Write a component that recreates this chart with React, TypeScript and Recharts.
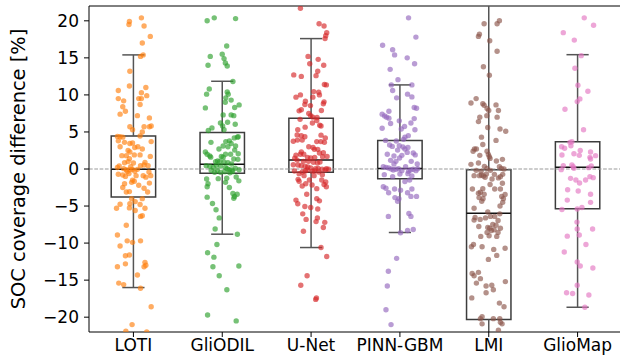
import {
  ComposedChart,
  Scatter,
  XAxis,
  YAxis,
  ReferenceArea,
  ReferenceLine,
} from "recharts";

const CATEGORIES = ["LOTI", "GliODIL", "U-Net", "PINN-GBM", "LMI", "GlioMap"];
const COLORS = ["#ff7f0e", "#2ca02c", "#d62728", "#9467bd", "#8c564b", "#e377c2"];

// box stats
const Q1 = [-3.77, -0.58, -0.44, -1.3, -20.3, -5.38];
const MEDIAN = [-0.05, 0.63, 1.21, 0.08, -5.96, 0.22];
const Q3 = [4.44, 4.93, 6.86, 3.86, -0.09, 3.68];
const WHISKER_LOW = [-16.0, -8.8, -10.6, -8.57, -40, -18.66];
const WHISKER_HIGH = [15.4, 11.84, 17.6, 11.35, 40, 15.43];

const Y_TICKS = [-20, -15, -10, -5, 0, 5, 10, 15, 20];

// [jitter, value] per method
const LOTI = [
  [0.09, 20.4], [-0.045, 19.9], [-0.05, 19.5], [0.12, 19.3], [0.19, 17.9], [0.1, 17.0], [0.11, 15.4], [0.08, 15.2],
  [-0.04, 13.2], [-0.045, 11.2], [-0.17, 10.6], [0.14, 11.0], [0.09, 10.3], [-0.17, 9.5], [0.06, 9.5], [0.09, 9.5],
  [0.15, 9.9], [-0.11, 9.2], [0.075, 8.7], [-0.12, 8.4], [-0.09, 7.8], [-0.15, 7.4], [0.045, 7.2], [0.18, 6.9],
  [-0.04, 5.7], [-0.01, 5.3], [0.12, 5.7], [0.18, 5.7], [0.2, 5.8], [-0.18, 4.4], [-0.15, 4.35], [-0.12, 4.3],
  [0.075, 4.45], [0.1, 5.0], [0.2, 3.7], [-0.01, 3.5], [-0.04, 3.45], [-0.17, 3.8], [-0.15, 3.0], [-0.1, 3.6],
  [0.015, 2.9], [0.05, 3.0], [0.1, 2.7], [-0.06, 2.5], [-0.04, 2.3], [-0.13, 1.8], [-0.08, 1.8], [0.01, 1.9],
  [0.075, 1.9], [0.19, 1.7], [0.13, 0.9], [-0.045, 1.4], [-0.1, 0.85], [-0.16, 0.4], [-0.18, 0.2], [-0.11, 0.05],
  [-0.08, -0.1], [-0.07, -0.35], [-0.04, -0.1], [-0.01, -0.05], [0.015, -0.3], [0.045, -0.05], [0.08, 0.45], [0.12, 0.55],
  [0.165, 0.45], [0.175, -0.4], [-0.17, -0.7], [-0.12, -0.8], [-0.09, -1.0], [-0.01, -1.5], [0.01, -1.65], [-0.02, -1.8],
  [0.11, -0.9], [0.14, -1.1], [0.195, -0.9], [-0.12, -2.5], [-0.08, -3.1], [-0.045, -3.05], [0.12, -2.6], [0.16, -3.1],
  [0.18, -1.9], [-0.05, -0.6], [-0.03, 0.3], [0.03, -0.9], [0.06, -2.2], [-0.1, -2.0], [0.0, 0.8], [-0.06, 1.0],
  [-0.15, -4.75], [-0.02, -4.0], [-0.04, -4.7], [0.02, -4.4], [0.1, -4.0], [0.075, -4.8], [-0.19, -5.3], [-0.045, -5.25],
  [0.13, -5.3], [0.1, -6.3], [0.08, -6.4], [0.02, -5.6], [-0.08, -7.6], [-0.18, -8.9], [-0.15, -10.4], [-0.07, -9.7],
  [-0.01, -9.9], [0.08, -9.7], [-0.09, -11.7], [-0.045, -11.6], [0.13, -12.6], [0.12, -13.2], [0.14, -13.0], [-0.18, -13.2],
  [-0.09, -12.8], [0.045, -14.3], [-0.165, -15.4], [-0.11, -15.6], [0.08, -16.1], [0.2, -18.6], [-0.015, -21.0], [-0.085, -21.9],
  [0.15, -22.0],
];

const GLIODIL = [
  [-0.17, 20.0], [-0.09, 20.4], [0.15, 20.3], [0.05, 16.6], [-0.135, 15.2], [0.0, 15.5], [0.02, 14.9], [0.035, 14.3],
  [0.056, 13.9], [-0.16, 14.0], [0.12, 11.8], [-0.146, 10.8], [-0.176, 10.1], [0.056, 10.4], [0.067, 10.1], [0.04, 9.6],
  [0.1, 9.3], [0.034, 9.0], [-0.19, 8.25], [0.14, 8.3], [0.19, 8.65], [0.1, 7.3], [0.13, 7.2], [0.01, 7.3],
  [-0.02, 6.2], [0.06, 6.3], [0.146, 6.05], [-0.116, 5.55], [-0.157, 5.2], [0.02, 5.3], [0.004, 5.8], [0.17, 4.3],
  [0.135, 4.2], [0.18, 4.35], [-0.127, 3.6], [0.04, 3.7], [0.08, 3.8], [0.1, 3.45], [0.01, 3.1], [0.064, 3.0],
  [-0.037, 2.7], [0.15, 3.1], [-0.19, 2.3], [-0.17, 2.0], [0.18, 2.05], [0.14, 2.55], [-0.14, 1.75], [-0.13, 1.6],
  [-0.01, 1.7], [0.01, 1.6], [0.037, 2.0], [0.094, 2.0], [0.13, 1.35], [0.176, 1.3], [-0.075, 1.0], [-0.052, 1.1],
  [-0.026, 1.03], [0.02, 0.94], [0.064, 0.85], [0.105, 0.67], [-0.18, 0.45], [-0.14, 0.36], [-0.1, 0.22], [-0.067, 0.5],
  [-0.02, 0.4], [0.034, 0.22], [0.056, 0.04], [0.08, -0.1], [0.11, -0.13], [0.146, 0.1], [0.19, -0.1], [-0.124, -0.2],
  [-0.086, -0.45], [-0.056, -0.2], [-0.02, -0.45], [0.026, -0.36], [0.086, -0.5], [0.116, -0.36], [-0.176, -1.35], [-0.16, -2.0],
  [-0.045, -1.3], [0.037, -1.8], [0.05, -1.25], [0.157, -1.07], [0.187, -1.6], [-0.17, -2.4], [0.08, -2.5], [0.12, -3.3],
  [0.138, -3.7], [0.168, -3.4], [0.13, -3.95], [-0.17, -3.8], [-0.11, -4.65], [-0.07, -5.5], [-0.034, -6.6], [-0.08, -8.1],
  [0.17, -8.8], [-0.06, -10.2], [-0.165, -11.3], [-0.094, -11.9], [0.187, -13.1], [-0.105, -13.2], [-0.034, -14.4], [0.052, -16.3],
  [-0.165, -19.7], [0.157, -20.5],
];

const UNET = [
  [-0.12, 21.7], [0.09, 19.6], [0.146, 19.3], [0.176, 18.4], [0.165, 18.0], [0.157, 17.6], [-0.034, 15.2], [0.08, 14.8],
  [-0.015, 14.2], [0.142, 14.0], [0.075, 13.2], [-0.195, 12.7], [-0.11, 12.5], [0.056, 12.6], [0.15, 11.4], [0.172, 11.35],
  [0.03, 10.45], [0.086, 10.35], [0.094, 10.0], [-0.17, 9.7], [-0.12, 10.0], [0.02, 9.7], [-0.064, 9.15], [0.146, 9.06],
  [0.138, 8.8], [-0.07, 8.7], [-0.007, 8.56], [-0.11, 8.0], [-0.135, 7.85], [0.116, 7.9], [-0.026, 7.5], [-0.004, 7.2],
  [0.02, 7.0], [0.067, 6.95], [-0.124, 6.7], [0.015, 6.2], [0.097, 5.9], [0.112, 5.8], [-0.067, 5.65], [-0.15, 5.3],
  [0.064, 6.55], [-0.157, 4.6], [-0.11, 4.5], [-0.07, 4.35], [-0.1, 3.9], [-0.2, 3.75], [-0.154, 3.9], [0.112, 4.57],
  [0.16, 4.2], [0.11, 3.7], [0.15, 3.6], [0.064, 3.7], [-0.026, 3.0], [0.022, 2.9], [0.037, 2.65], [0.075, 2.65],
  [0.094, 2.15], [0.138, 2.2], [-0.11, 2.3], [-0.12, 2.0], [-0.082, 2.0], [-0.17, 1.85], [-0.184, 1.45], [-0.157, 1.2],
  [-0.04, 1.57], [-0.004, 1.5], [0.04, 1.57], [0.18, 1.7], [0.13, 1.66], [-0.086, 1.03], [-0.03, 1.03], [0.026, 0.9],
  [0.071, 0.8], [0.1, 0.94], [-0.2, 0.58], [-0.146, 0.54], [-0.11, 0.45], [-0.067, 0.36], [-0.037, 0.27], [-0.004, 0.13],
  [0.05, 0.04], [0.08, 0.09], [0.124, -0.04], [0.172, 0.04], [0.198, -0.04], [-0.187, -0.27], [-0.135, -0.63], [-0.1, -0.4],
  [-0.064, -0.27], [-0.045, -0.13], [0.011, -0.3], [0.04, -0.27], [0.086, -0.4], [0.127, -0.76], [0.16, -0.13], [-0.146, -1.4],
  [-0.079, -0.9], [-0.019, -1.48], [0.034, -0.9], [0.12, -1.48], [0.165, -1.75], [0.172, -2.4], [0.146, -2.1], [-0.135, -1.66],
  [-0.06, -2.0], [-0.1, -2.3], [0.011, -2.15], [0.064, -2.65], [-0.049, -3.4], [-0.17, -4.2], [-0.15, -4.7], [0.064, -4.0],
  [0.094, -4.3], [-0.07, -5.07], [-0.004, -5.2], [0.075, -5.4], [-0.094, -6.05], [-0.056, -6.8], [0.071, -6.6], [0.056, -7.1],
  [0.154, -7.2], [0.138, -7.9], [-0.086, -8.4], [0.112, -10.6], [0.176, -11.8], [-0.045, -14.4], [-0.116, -15.7], [0.06, -17.4],
  [0.052, -17.6],
];

const PINN_GBM = [
  [0.097, 20.4], [0.18, 17.8], [-0.195, 16.7], [-0.082, 16.1], [-0.06, 15.4], [0.082, 15.0], [0.165, 14.2], [-0.11, 13.45],
  [-0.022, 12.06], [-0.097, 11.35], [0.135, 11.35], [-0.082, 10.6], [0.086, 10.1], [0.135, 9.73], [-0.037, 9.6], [0.161, 8.3],
  [0.187, 8.2], [-0.124, 7.8], [-0.2, 7.4], [-0.172, 7.17], [-0.15, 7.0], [-0.124, 6.86], [0.161, 6.8], [-0.007, 6.5],
  [0.124, 6.2], [-0.105, 6.14], [0.052, 5.74], [0.015, 5.4], [-0.2, 5.5], [0.169, 5.3], [0.094, 4.5], [0.056, 4.3],
  [0.041, 4.0], [-0.161, 3.86], [-0.041, 3.77], [-0.116, 3.23], [-0.086, 3.05], [-0.007, 3.14], [0.034, 2.96], [0.056, 2.7],
  [0.09, 2.9], [0.15, 2.15], [0.082, 2.24], [0.172, 1.9], [-0.026, 2.55], [-0.142, 2.0], [-0.067, 1.75], [-0.004, 1.48],
  [0.022, 1.84], [-0.105, 1.17], [-0.045, 1.03], [-0.067, 0.67], [0.127, 1.03], [0.195, 0.67], [-0.187, 0.31], [-0.157, 0.22],
  [-0.127, 0.13], [-0.097, 0.0], [-0.075, -0.13], [-0.045, -0.04], [-0.015, 0.04], [0.022, -0.22], [0.064, 0.31], [0.097, -0.31],
  [0.12, -0.13], [0.15, -0.04], [0.18, -0.22], [0.2, 0.04], [-0.176, -0.76], [-0.082, -1.03], [0.0, -0.67], [0.09, -0.63],
  [0.135, -0.94], [0.056, -1.7], [0.109, -1.48], [-0.187, -2.4], [-0.157, -2.6], [-0.127, -3.2], [-0.06, -2.7], [0.007, -2.87],
  [0.086, -3.2], [0.135, -2.7], [0.124, -3.7], [0.187, -3.7], [-0.056, -3.86], [-0.026, -4.35], [-0.011, -4.0], [-0.13, -6.4],
  [0.101, -6.0], [0.124, -6.4], [0.086, -8.3], [0.15, -8.16], [0.007, -8.6], [-0.037, -12.06], [-0.13, -13.8], [-0.142, -15.8],
  [-0.157, -19.0], [-0.1, -21.0],
];

const LMI = [
  [-0.052, 19.6], [0.094, 19.6], [0.12, 20.0], [-0.105, 18.2], [-0.116, 17.9], [0.011, 17.3], [0.094, 15.9], [-0.06, 13.8],
  [0.007, 12.65], [-0.142, 9.5], [-0.2, 8.9], [-0.067, 8.8], [-0.052, 8.6], [0.082, 8.65], [-0.019, 8.16], [0.0, 7.9],
  [0.109, 7.9], [-0.101, 7.0], [-0.022, 7.2], [0.094, 7.0], [-0.116, 6.4], [-0.011, 5.6], [0.127, 5.4], [0.191, 5.1],
  [-0.082, 4.3], [0.082, 3.86], [-0.067, 3.3], [-0.161, 2.7], [-0.139, 2.7], [-0.176, 2.4], [-0.019, 2.4], [-0.101, 1.84],
  [-0.004, 1.97], [0.007, 1.66], [0.015, 1.43], [-0.2, 0.63], [-0.116, 0.8], [0.154, 1.3], [0.086, 1.07], [-0.049, 0.36],
  [-0.019, 0.09], [0.12, 0.31], [0.142, 0.09], [-0.142, -0.18], [-0.086, -0.31], [0.019, -0.18], [0.172, 0.0], [-0.165, -0.9],
  [-0.105, -0.9], [-0.082, -0.8], [-0.06, -0.94], [-0.041, -1.12], [-0.026, -0.67], [0.037, -1.35], [0.064, -0.72], [0.109, -1.2],
  [0.131, -1.03], [0.157, -0.72], [0.015, -2.1], [0.154, -1.93], [-0.184, -2.7], [-0.067, -2.65], [0.067, -2.7], [0.131, -2.7],
  [-0.116, -3.27], [-0.094, -3.14], [-0.052, -3.4], [-0.109, -3.86], [-0.079, -4.35], [-0.064, -4.0], [0.146, -3.7], [0.165, -4.0],
  [0.184, -3.45], [0.157, -4.5], [0.127, -5.0], [-0.165, -5.3], [-0.011, -5.8], [-0.154, -6.55], [-0.165, -6.9], [-0.097, -6.8],
  [-0.037, -6.6], [0.019, -6.4], [0.067, -6.4], [0.105, -6.95], [0.124, -6.05], [0.045, -7.5], [0.082, -7.6], [-0.112, -7.76],
  [-0.011, -7.9], [0.011, -8.0], [0.03, -8.3], [0.06, -8.2], [0.105, -8.56], [0.131, -8.0], [-0.019, -8.56], [-0.09, -9.1],
  [0.004, -9.0], [0.09, -9.1], [-0.195, -10.5], [-0.172, -10.2], [-0.075, -10.5], [0.056, -10.85], [0.184, -10.7], [0.09, -11.66],
  [-0.004, -12.2], [-0.187, -14.1], [-0.165, -14.4], [-0.116, -13.95], [-0.094, -14.8], [-0.139, -15.4], [0.187, -15.2], [-0.03, -15.8],
  [0.034, -15.7], [0.052, -16.3], [-0.03, -16.7], [-0.191, -17.4], [0.12, -18.1], [0.172, -18.6], [-0.075, -19.95], [-0.094, -20.2],
  [0.052, -20.2], [0.124, -20.2], [-0.075, -20.9], [0.131, -20.7], [0.15, -20.9], [0.109, -21.75],
];

const GLIOMAP = [
  [0.075, 20.4], [0.18, 19.4], [-0.161, 18.4], [-0.037, 17.4], [0.041, 15.3], [-0.03, 13.6], [0.004, 11.3], [0.116, 10.5],
  [0.026, 9.46], [-0.004, 9.1], [-0.142, 8.07], [0.067, 5.3], [-0.086, 3.6], [-0.064, 3.68], [-0.075, 3.14], [-0.18, 3.0],
  [-0.146, 2.8], [0.03, 2.5], [0.146, 2.3], [-0.176, 1.88], [-0.041, 2.06], [0.019, 1.84], [0.202, 1.8], [0.139, 1.57],
  [0.146, 1.35], [-0.161, 0.45], [-0.064, 0.54], [-0.041, 0.09], [-0.049, 0.31], [0.124, 0.18], [0.154, 0.4], [-0.184, -0.09],
  [-0.079, -1.26], [-0.019, -1.48], [0.022, -1.88], [0.09, -1.48], [0.139, -1.03], [0.176, -1.17], [-0.112, -2.8], [0.007, -2.96],
  [0.146, -3.4], [-0.116, -4.2], [0.146, -4.5], [0.049, -5.2], [-0.176, -5.47], [-0.004, -5.4], [-0.007, -7.17], [-0.004, -8.1],
  [0.169, -8.1], [0.019, -8.9], [-0.116, -9.06], [0.094, -10.2], [-0.15, -11.2], [-0.004, -12.56], [0.03, -13.1], [0.172, -13.36],
  [-0.004, -15.7], [-0.124, -16.7], [-0.056, -16.8], [0.127, -17.0], [0.082, -18.65],
];

const POINTS = [LOTI, GLIODIL, UNET, PINN_GBM, LMI, GLIOMAP];

const FONT = "DejaVu Sans, sans-serif";

function YLabel({ viewBox }: any) {
  const cy = viewBox.y + viewBox.height / 2;
  return (
    <text
      x={24.5}
      y={cy}
      transform={`rotate(-90, 24.5, ${cy})`}
      textAnchor="middle"
      fontSize={19.4}
      fontFamily={FONT}
      fill="#000"
    >
      SOC coverage difference [%]
    </text>
  );
}

// matplotlib-style tick with a real minus sign
function YTick({ x, y, payload }: any) {
  const v = payload.value as number;
  const txt = v < 0 ? "\u2212" + Math.abs(v) : String(v);
  return (
    <text x={x} y={y} dy={6} textAnchor="end" fontSize={17} fontFamily={FONT} fill="#000">
      {txt}
    </text>
  );
}

export default function App() {
  return (
    <div style={{ position: "absolute", left: 0, top: 0, width: 620, height: 361, overflow: "hidden", background: "#fff" }}>
      <ComposedChart width={622} height={361} margin={{ top: 6, right: 0, bottom: 0, left: 0 }}>
        <XAxis
          type="number"
          dataKey="x"
          domain={[-0.5, 5.5]}
          ticks={[0, 1, 2, 3, 4, 5]}
          tickFormatter={(v: number) => CATEGORIES[v]}
          allowDataOverflow
          height={29}
          tickSize={5}
          tickMargin={2}
          stroke="#000"
          tick={{ fill: "#000", fontSize: 17, fontFamily: FONT }}
        />
        <YAxis
          type="number"
          dataKey="y"
          domain={[-22, 22]}
          ticks={Y_TICKS}
          allowDataOverflow
          width={89}
          tickSize={5}
          tickMargin={5}
          stroke="#000"
          tick={<YTick />}
          label={<YLabel />}
        />
        <ReferenceLine y={22} stroke="#000" strokeWidth={1} />
        <ReferenceLine y={0} stroke="#999" strokeWidth={1} strokeDasharray="3.7 1.6" />
        {CATEGORIES.map((c, i) => (
          <ReferenceLine
            key={c + "-wl"}
            segment={[{ x: i, y: WHISKER_LOW[i] }, { x: i, y: Q1[i] }]}
            stroke="#555"
            strokeWidth={1.5}
            ifOverflow="hidden"
          />
        ))}
        {CATEGORIES.map((c, i) => (
          <ReferenceLine
            key={c + "-wh"}
            segment={[{ x: i, y: Q3[i] }, { x: i, y: WHISKER_HIGH[i] }]}
            stroke="#555"
            strokeWidth={1.5}
            ifOverflow="hidden"
          />
        ))}
        {CATEGORIES.map((c, i) => (
          <ReferenceLine
            key={c + "-cl"}
            segment={[{ x: i - 0.125, y: WHISKER_LOW[i] }, { x: i + 0.125, y: WHISKER_LOW[i] }]}
            stroke="#555"
            strokeWidth={1.5}
            ifOverflow="hidden"
          />
        ))}
        {CATEGORIES.map((c, i) => (
          <ReferenceLine
            key={c + "-ch"}
            segment={[{ x: i - 0.125, y: WHISKER_HIGH[i] }, { x: i + 0.125, y: WHISKER_HIGH[i] }]}
            stroke="#555"
            strokeWidth={1.5}
            ifOverflow="hidden"
          />
        ))}
        {CATEGORIES.map((c, i) => (
          <ReferenceArea
            key={c + "-box"}
            x1={i - 0.25}
            x2={i + 0.25}
            y1={Q1[i]}
            y2={Q3[i]}
            fill="none"
            fillOpacity={0}
            stroke="#3d3d3d"
            strokeWidth={1.5}
            ifOverflow="hidden"
          />
        ))}
        {CATEGORIES.map((c, i) => (
          <ReferenceLine
            key={c + "-med"}
            segment={[{ x: i - 0.25, y: MEDIAN[i] }, { x: i + 0.25, y: MEDIAN[i] }]}
            stroke="#111"
            strokeWidth={1.5}
          />
        ))}
        {POINTS.map((pts, i) => (
          <Scatter
            key={CATEGORIES[i]}
            name={CATEGORIES[i]}
            data={pts.map(([dx, v]) => ({ x: i + dx, y: v }))}
            isAnimationActive={false}
            shape={(p: any) => (
              <circle cx={p.cx} cy={p.cy} r={2.7} fill={COLORS[i]} fillOpacity={0.65} />
            )}
          />
        ))}
      </ComposedChart>
    </div>
  );
}
